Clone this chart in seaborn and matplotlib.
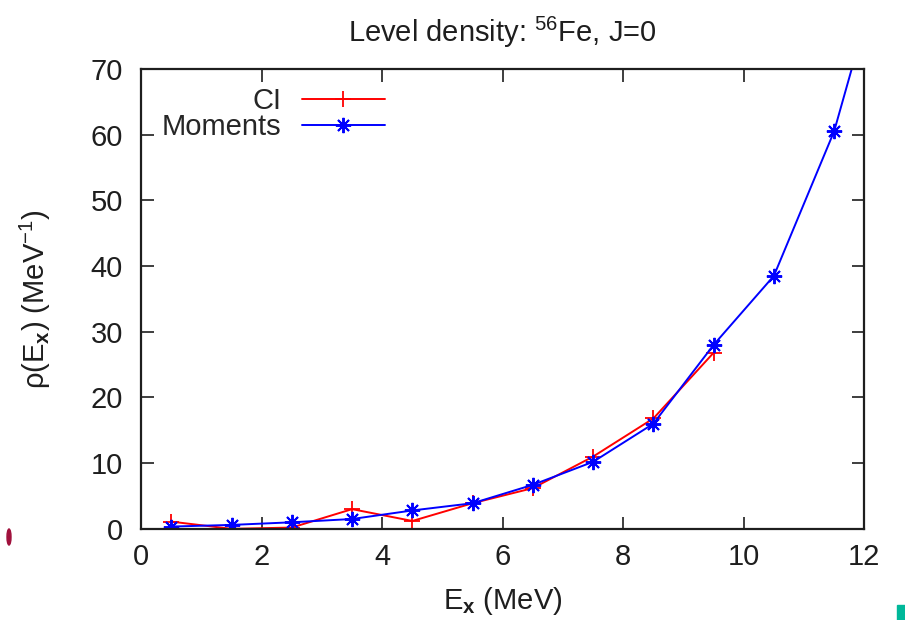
import numpy as np
import pandas as pd
import matplotlib
matplotlib.use("Agg")
import matplotlib.pyplot as plt
from matplotlib.patches import Ellipse, Rectangle
import seaborn as sns

# Excitation-energy bin centres (MeV)
ex_ci = [0.5, 1.5, 2.5, 3.5, 4.5, 5.5, 6.5, 7.5, 8.5, 9.5]
rho_ci = [1.1, 0.0, 0.2, 3.0, 1.2, 3.9, 6.2, 11.0, 16.8, 26.8]

ex_mom = [0.5, 1.5, 2.5, 3.5, 4.5, 5.5, 6.5, 7.5, 8.5, 9.5, 10.5, 11.5, 12.5]
rho_mom = [0.35, 0.6, 1.0, 1.5, 2.8, 3.9, 6.7, 10.2, 16.0, 28.0, 38.5, 60.5, 93.0]

x_ticks = [0, 2, 4, 6, 8, 10, 12]
y_ticks = [0, 10, 20, 30, 40, 50, 60, 70]

sns.set_theme(style="ticks")
plt.rcParams["font.family"] = ["Liberation Sans", "DejaVu Sans"]
plt.rcParams["mathtext.fontset"] = "custom"
plt.rcParams["mathtext.rm"] = "Liberation Sans"
plt.rcParams["mathtext.it"] = "Liberation Sans"
plt.rcParams["mathtext.bf"] = "Liberation Sans:bold"

FS = 21
TXT = "#1e1e1e"
fig = plt.figure(figsize=(9.05, 6.2), dpi=100)
ax = fig.add_axes([0.156, 0.147, 0.799, 0.742])

df_ci = pd.DataFrame({"Ex": ex_ci, "rho": rho_ci})
df_mom = pd.DataFrame({"Ex": ex_mom, "rho": rho_mom})

sns.lineplot(data=df_ci, x="Ex", y="rho", ax=ax, color="#ff0000", lw=1.4,
             marker="+", markersize=12, markeredgewidth=1.3,
             markeredgecolor="#ff0000", label="CI", sort=False)
sns.lineplot(data=df_mom, x="Ex", y="rho", ax=ax, color="#0000ff", lw=1.4,
             marker=(8, 2, 0), markersize=11, markeredgewidth=1.4,
             markeredgecolor="#0000ff", label="Moments", sort=False)

ax.set_xlim(0, 12)
ax.set_ylim(0, 70)
ax.set_xticks(x_ticks)
ax.set_yticks(y_ticks)
ax.tick_params(direction="in", length=9, width=1.2, labelsize=FS,
               top=True, right=True, colors=TXT)
ax.tick_params(axis="y", pad=13)
ax.tick_params(axis="x", pad=10)
for s in ax.spines.values():
    s.set_linewidth(1.6)
    s.set_color(TXT)

ax.set_xlabel(r"E$_\mathbf{x}$ (MeV)", fontsize=FS, color=TXT, labelpad=10)
ax.set_ylabel(r"ρ(E$_\mathbf{x}$) (MeV$^{-1}$)", fontsize=FS, color=TXT, labelpad=27)
ax.set_title(r"Level density: $^{56}$Fe, J=0", fontsize=FS, color=TXT, pad=19)

leg = ax.legend(loc="upper left", bbox_to_anchor=(0.0, 1.005), frameon=False,
                markerfirst=False, fontsize=FS, handlelength=2.85,
                handletextpad=0.7, labelspacing=-0.05, borderaxespad=0.3)

# stray slide fragments at the page edges
fig.patches.append(Ellipse((9, 83), 4, 16, transform=None, color="#a0103c"))
fig.patches.append(Rectangle((897, 0), 8, 15, transform=None, color="#00b89a"))

fig.savefig("out.png", dpi=100)
